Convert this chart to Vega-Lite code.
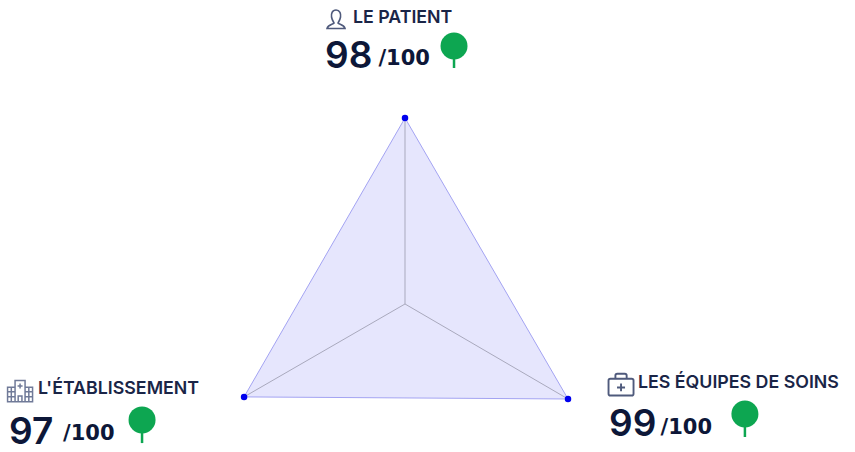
{
"$schema":"https://vega.github.io/schema/vega-lite/v6.json",
"width":855,"height":452,"padding":0,
"autosize":{"type":"fit","contains":"padding"},
"background":"#ffffff",
"view":{"stroke":null},
"datasets":{
"radar":[
{"axis":"Le patient","order":1,"value":98,"x":0,"y":97.9,"cx":0,"cy":0},
{"axis":"Les équipes de soins","order":2,"value":99,"x":85.8,"y":-50,"cx":0,"cy":0},
{"axis":"L'établissement","order":3,"value":97,"x":-84.7,"y":-48.9,"cx":0,"cy":0}
],
"titles":[
{"text":"LE PATIENT","x":-27.4,"y":150.5},
{"text":"L'ÉTABLISSEMENT","x":-193.2,"y":-45},
{"text":"LES ÉQUIPES DE SOINS","x":122.6,"y":-41.5}
],
"scores":[
{"text":"98","x":-42.1,"y":130},
{"text":"97","x":-208.4,"y":-67.9},
{"text":"99","x":107.4,"y":-63.7}
],
"outof":[
{"text":"/100","x":-14,"y":129},
{"text":"/100","x":-180,"y":-68.4},
{"text":"/100","x":134.5,"y":-65.2}
],
"trees":[
{"x":25.8,"y":135.8,"y1":130,"y2":124.2},
{"x":-138.4,"y":-61,"y1":-67,"y2":-73.2},
{"x":178.9,"y":-57.9,"y1":-64,"y2":-70}
]
},
"encoding":{
"x":{"field":"x","type":"quantitative","axis":null,"scale":{"domain":[-213.16,236.84],"nice":false,"zero":false}},
"y":{"field":"y","type":"quantitative","axis":null,"scale":{"domain":[-77.9,160],"nice":false,"zero":false}}
},
"layer":[
{"data":{"name":"radar"},"mark":{"type":"line","interpolate":"linear-closed","fill":"#e6e6fd","stroke":"#a3a3f2","strokeWidth":1},"encoding":{"order":{"field":"order"}}},
{"data":{"name":"radar"},"mark":{"type":"rule","stroke":"#a9a9bd","strokeWidth":1},"encoding":{"x2":{"field":"cx"},"y2":{"field":"cy"}}},
{"data":{"name":"radar"},"mark":{"type":"point","filled":true,"fill":"#0000ee","opacity":1,"size":42,"shape":"circle"}},
{"data":{"name":"titles"},"mark":{"type":"text","align":"left","baseline":"middle","font":"Inter","fontSize":17.8,"fontWeight":600,"fill":"#1a2547"},"encoding":{"text":{"field":"text"}}},
{"data":{"name":"scores"},"mark":{"type":"text","align":"left","baseline":"middle","font":"Inter","fontSize":37,"fontWeight":600,"fill":"#0d1738"},"encoding":{"text":{"field":"text"}}},
{"data":{"name":"outof"},"mark":{"type":"text","align":"left","baseline":"middle","font":"DejaVu Sans","fontSize":21,"fontWeight":"bold","fill":"#0d1738"},"encoding":{"text":{"field":"text"}}},
{"data":{"name":"trees"},"mark":{"type":"rule","stroke":"#0da651","strokeWidth":2.5},"encoding":{"y":{"field":"y1","type":"quantitative"},"y2":{"field":"y2"}}},
{"data":{"name":"trees"},"mark":{"type":"point","filled":true,"fill":"#0da651","opacity":1,"size":729,"shape":"circle"}},
{"data":{"values":[{"icon":"patient","x":-36.3,"y":150}]},"mark":{"type":"point","filled":false,"stroke":"#4f5a7c","strokeWidth":1.6,"opacity":1,"size":400,"shape":"M0,-0.9 C-0.4,-0.9 -0.5,-0.5 -0.45,-0.2 C-0.4,0.1 -0.25,0.3 -0.2,0.4 C-0.3,0.55 -0.8,0.55 -0.9,0.95 L0.9,0.95 C0.8,0.55 0.3,0.55 0.2,0.4 C0.25,0.3 0.4,0.1 0.45,-0.2 C0.5,-0.5 0.4,-0.9 0,-0.9Z"}},
{"data":{"values":[{"icon":"equipes","x":113.7,"y":-42.6}]},"mark":{"type":"point","filled":false,"stroke":"#4f5a7c","strokeWidth":1.9,"opacity":1,"size":625,"shape":"M-0.85,-0.5 L0.85,-0.5 Q1,-0.5 1,-0.35 L1,0.7 Q1,0.85 0.85,0.85 L-0.85,0.85 Q-1,0.85 -1,0.7 L-1,-0.35 Q-1,-0.5 -0.85,-0.5Z M-0.45,-0.5 L-0.45,-0.75 Q-0.45,-0.9 -0.3,-0.9 L0.3,-0.9 Q0.45,-0.9 0.45,-0.75 L0.45,-0.5 M0,-0.12 L0,0.5 M-0.32,0.2 L0.32,0.2"}},
{"data":{"values":[{"icon":"etablissement","x":-202.6,"y":-45.8}]},"mark":{"type":"point","filled":false,"stroke":"#707a98","strokeWidth":1.5,"opacity":1,"size":625,"shape":"M-0.4,-0.85 L0.4,-0.85 L0.4,0.85 L-0.4,0.85Z M0,-0.6 L0,-0.2 M-0.2,-0.4 L0.2,-0.4 M-0.15,0.85 L-0.15,0.4 L0.15,0.4 L0.15,0.85 M-0.4,-0.3 L-1,-0.3 L-1,0.85 L-0.4,0.85 M0.4,-0.3 L1,-0.3 L1,0.85 L0.4,0.85 M-1,0.05 L-0.4,0.05 M-1,0.45 L-0.4,0.45 M0.4,0.05 L1,0.05 M0.4,0.45 L1,0.45 M-0.7,-0.3 L-0.7,0.85 M0.7,-0.3 L0.7,0.85"}}
]
}
